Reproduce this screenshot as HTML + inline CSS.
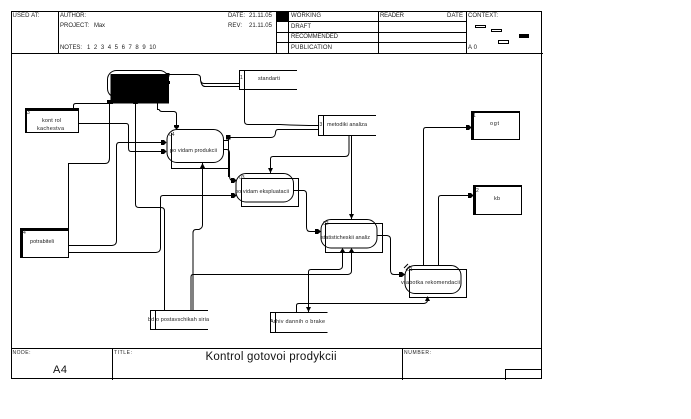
<!DOCTYPE html>
<html><head><meta charset="utf-8"><style>
html,body{margin:0;padding:0;background:#fff;width:691px;height:419px;overflow:hidden}
svg{display:block}
text{font-family:"Liberation Sans",sans-serif;font-size:6px;fill:#222}
.l{fill:none;stroke:#000;stroke-width:1}
.b{fill:#fff;stroke:#000;stroke-width:1}
.n{fill:none;stroke:#000;stroke-width:1}
</style></head><body>
<svg width="691" height="419" viewBox="0 0 691 419" xmlns="http://www.w3.org/2000/svg">
<!-- frame -->
<rect class="l" x="11.500" y="11.500" width="530" height="367"/>
<path class="l" d="M11.500 53.500H543M58.500 11.500V53.500M276.500 11.500V53.500M288.500 11.500V53.500M378.500 11.500V53.500M466.500 11.500V53.500M276 21.500H466.500M276 32.500H466.500M276 42.500H466.500"/>
<rect x="276" y="11" width="12.500" height="10.500" fill="#000"/>
<path class="l" d="M11.500 348.500H541.500M112.500 348.500V380M402.500 348.500V380M505.500 380V369.500H542"/>
<!-- context -->
<rect class="l" x="475.500" y="25.500" width="10" height="2"/>
<rect class="l" x="491.500" y="29.500" width="10" height="2"/>
<rect x="519" y="34" width="10" height="4" fill="#000"/>
<rect class="l" x="498.500" y="40.500" width="10" height="3"/>
<!-- header text -->
<text x="12.500" y="17" textLength="27">USED AT:</text>
<text x="60" y="17" textLength="26">AUTHOR:</text>
<text x="60" y="27" textLength="29">PROJECT:</text>
<text x="94" y="27" textLength="11">Max</text>
<text x="60" y="49" textLength="22">NOTES:</text>
<text x="87" y="49" textLength="69" xml:space="preserve">1  2  3  4  5  6  7  8  9  10</text>
<text x="228" y="17" textLength="17">DATE:</text>
<text x="249" y="17" textLength="23">21.11.05</text>
<text x="228" y="27" textLength="14">REV:</text>
<text x="249" y="27" textLength="23">21.11.05</text>
<text x="291" y="17" textLength="30">WORKING</text>
<text x="291" y="28" textLength="20">DRAFT</text>
<text x="291" y="38" textLength="47">RECOMMENDED</text>
<text x="291" y="49" textLength="41">PUBLICATION</text>
<text x="380" y="17" textLength="24">READER</text>
<text x="447" y="17" textLength="16">DATE</text>
<text x="468" y="17" textLength="30">CONTEXT:</text>
<text x="468" y="49" textLength="9">A0</text>
<!-- footer text -->
<text x="12.500" y="354" style="font-size:5px" textLength="18">NODE:</text>
<text x="53" y="373" style="font-size:11px;fill:#111" textLength="14">A4</text>
<text x="114" y="354" style="font-size:5px" textLength="18">TITLE:</text>
<text x="205.500" y="360" style="font-size:11.500px;fill:#111" textLength="131">Kontrol gotovoi prodykcii</text>
<text x="404" y="354" style="font-size:5px" textLength="27">NUMBER:</text>

<!-- process shadows and outlines -->
<rect class="n" x="171.500" y="140.500" width="57" height="28"/>
<rect class="b" x="167" y="129.500" width="56.500" height="33" rx="10"/>
<path class="l" d="M171.500 133V162"/>
<rect class="n" x="241.500" y="178.500" width="57" height="28"/>
<rect class="b" x="236" y="173.500" width="57.500" height="28.500" rx="10"/>
<path class="l" d="M241.500 178.500V206.500M241.500 178.500H298.500V206.500H241.500"/>
<rect class="n" x="325.500" y="223.500" width="57" height="29"/>
<rect class="b" x="321" y="219.500" width="56" height="28.500" rx="10"/>
<path class="l" d="M325.500 223.500H382.500V252.500H325.500Z"/>
<rect class="b" x="405" y="265.500" width="56" height="28" rx="10"/>
<path class="l" d="M409.500 269.500H466.500V297.500H409.500Z"/>
<path class="l" d="M404 268L408 264M406 270L410 266"/>
<rect class="l" x="107.500" y="70.500" width="61" height="27" rx="9"/>
<rect x="110.500" y="74" width="58.500" height="29.500" fill="#000"/>

<!-- connectors -->
<g class="l">
<path class="l" d="M168 74.500H197Q200.500 75 200.500 78V80Q201 83.500 204 83.500H239M200.500 80Q201.500 86.500 205 86.500H239"/>
<path class="l" d="M73.500 108V105.500Q73.500 103.500 76 103.500H108"/>
<path class="l" d="M244.500 89V121Q244.500 124.500 248 124.500H280Q300 125.500 318 125.500"/>
<path class="l" d="M318 129.500H278Q275.500 129.500 275.500 133Q275 137.500 271 137.500H228"/>
<path class="l" d="M109.500 103V158Q109.500 163.500 105 163.500H68.500V228"/>
<path class="l" d="M164.500 310V211Q164.500 207.500 161 207.500H139Q135.500 207.500 135.500 204V103"/>
<path class="l" d="M157.500 103V109.500H159Q160 111.500 162 111.500H174Q176.500 112 176.500 114V129"/>
<path class="l" d="M78.500 123.500H126Q128.500 123.500 128.500 126V148Q128.500 151.500 131 151.500H166"/>
<path class="l" d="M68.500 245.500H112Q116.500 245 116.500 241V146Q116.500 142.500 119 142.500H166"/>
<path class="l" d="M68.500 252.500H156Q160.500 252 160.500 248V198Q160.500 195.500 163 195.500H236"/>
<path class="l" d="M191 310V277Q191 274.500 193 274.500H348Q351.500 274 351.500 271V252"/>
<path class="l" d="M193 310V233Q193 229.500 196 229.500H199Q202.500 228 202.500 225V163"/>
<path class="l" d="M223.500 149.500H227Q229.500 150 229.500 153V176Q229.500 180.500 233 180.500H236"/>
<path class="l" d="M228.500 137V177"/>
<path class="l" d="M349 135.500V152Q349 156.500 345 156.500H273Q270.500 156.500 270.500 159V173"/>
<path class="l" d="M351.500 135.500V219"/>
<path class="l" d="M293.500 190.500H304Q306.500 191 306.500 194V227Q306.500 231.500 310 231.500H321"/>
<path class="l" d="M377 235.500H387Q390.500 236 390.500 239V270Q390.500 274.500 394 274.500H405"/>
<path class="l" d="M423.500 265V130Q423.500 127.500 426 127.500H471"/>
<path class="l" d="M438.500 265V198Q438.500 195.500 441 195.500H473"/>
<path class="l" d="M296.500 312V305.500Q296.500 303.500 299 303.500H424Q427.500 303 427.500 300V297"/>
<path class="l" d="M308.500 312V272Q308.500 269.500 311 269.500H339Q342.500 269 342.500 266V252"/>
</g>
<!-- arrowheads -->
<g fill="#000">
<path d="M107 104H113L113 100H107Z"/>
<path d="M133 104H138L135.500 100Z"/>
<rect x="166" y="73" width="3.500" height="3.500"/><rect x="168" y="81" width="2" height="3"/>
<path d="M174 125H179V127L176.500 129.500L174 127Z"/>
<path d="M161 140H164L166.500 142.500L164 145H161Z"/>
<path d="M161 149H164L166.500 151.500L164 154H161Z"/>
<path d="M200 168H205L202.500 163Z"/>
<path d="M226 135H230.500V139.500H226Z"/>
<path d="M231 178H234L236.500 180.500L234 183H231Z"/>
<path d="M231 193H234L236.500 195.500L234 198H231Z"/>
<path d="M268 168H273L270.500 173Z"/>
<path d="M349 214H354L351.500 219Z"/>
<path d="M315 229H318L321 231.500L318 234H315Z"/>
<path d="M340 252H345L342.500 248Z"/>
<path d="M349 252H354L351.500 248Z"/>
<path d="M399 272H402L405 274.500L402 277H399Z"/>
<path d="M425 301H430L427.500 296Z"/>
<path d="M306 307H311L308.500 312Z"/>
<path d="M466 125H469L471.500 127.500L469 130H466Z"/>
<path d="M468 193H471L473.500 195.500L471 198H468Z"/>
</g>

<!-- external entities -->
<rect class="b" x="25.500" y="108.500" width="53" height="24"/>
<rect x="25" y="108" width="54" height="3" fill="#000"/><rect x="25" y="108" width="2" height="25" fill="#000"/>
<rect class="b" x="20.500" y="228.500" width="48" height="29"/>
<rect x="20" y="228" width="49" height="3" fill="#000"/><rect x="20" y="228" width="3" height="30" fill="#000"/>
<rect class="b" x="471.500" y="111.500" width="48" height="28"/>
<rect x="471" y="111" width="49" height="2" fill="#000"/><rect x="471" y="111" width="3" height="29" fill="#000"/>
<rect class="b" x="473.500" y="185.500" width="48" height="29"/>
<rect x="473" y="185" width="49" height="2" fill="#000"/><rect x="473" y="185" width="3" height="30" fill="#000"/>

<!-- data stores -->
<path class="b" d="M297 70.500H239.500V89.500H297"/><path class="l" d="M244.500 70.500V89.500"/>
<path class="b" d="M376 115.500H318.500V135.500H376"/><path class="l" d="M323.500 115.500V135.500"/>
<path class="b" d="M208 310.500H150.500V329.500H208"/><path class="l" d="M155.500 310.500V329.500"/>
<path class="b" d="M327.500 312.500H270.500V332.500H327.500"/><path class="l" d="M275.500 312.500V332.500"/>

<!-- labels -->
<g>
<text x="42" y="122" textLength="19" style="font-size:5.500px">kont rol</text>
<text x="37" y="130" textLength="27" style="font-size:5.500px">kachestva</text>
<text x="30" y="243" textLength="24" style="font-size:5.500px">potrabiteli</text>
<text x="258" y="80" textLength="22" style="font-size:5.500px">standarti</text>
<text x="327" y="126" textLength="40" style="font-size:5.500px">metodiki analiza</text>
<text x="490" y="125" textLength="9" style="font-size:5.500px">ogt</text>
<text x="494" y="200" textLength="6" style="font-size:5.500px">kb</text>
<text x="170" y="152" textLength="47" style="font-size:5.500px">po vidam produkcii</text>
<text x="235" y="193" textLength="54" style="font-size:5.500px">po vidam ekspluatacii</text>
<text x="321" y="239" textLength="49" style="font-size:5.500px">statisticheskii analiz</text>
<text x="401" y="284" textLength="59" style="font-size:5.500px">vrabotka rekomendacii</text>
<text x="148" y="321" textLength="61" style="font-size:5.500px">bd o postavschikah siria</text>
<text x="270" y="323" textLength="55" style="font-size:5.500px">Arhiv dannih o brake</text>
</g>
<g>
<text x="27" y="114" style="font-size:5px">3</text>
<text x="23" y="234" style="font-size:5px">4</text>
<text x="240" y="79" style="font-size:5px">1</text>
<text x="319.500" y="126" style="font-size:5px">3</text>
<text x="473" y="117" style="font-size:5px">1</text>
<text x="476" y="192" style="font-size:5px">2</text>
<text x="169" y="136" style="font-size:5px">04</text>
<text x="239" y="179" style="font-size:5px">03</text>
<text x="323" y="225" style="font-size:5px">02</text>
<text x="407" y="271" style="font-size:5px">01</text>
</g>
</svg>
</body></html>
